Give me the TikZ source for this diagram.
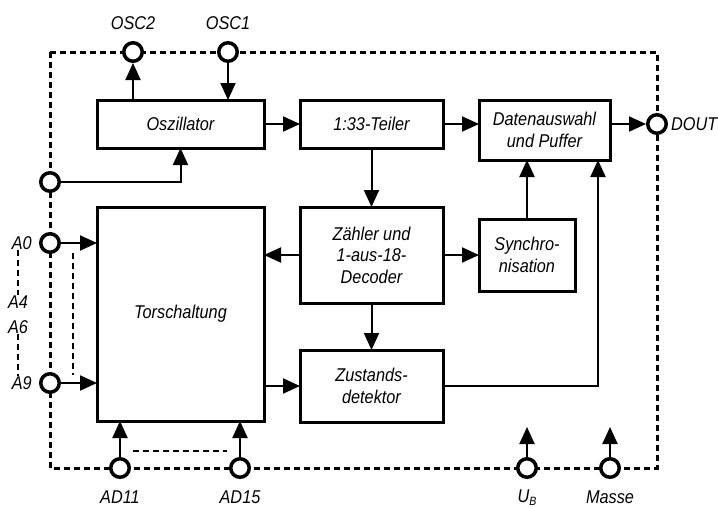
\documentclass[tikz,border=0pt]{standalone}
\usepackage{fontspec}
\setmainfont{Liberation Sans}[FakeStretch=0.88]
\usepackage{tikz}
\usetikzlibrary{positioning,arrows.meta}

\begin{document}
\begin{tikzpicture}[
  x=1pt, y=-1pt,
  font=\fontsize{18.5}{21.5}\selectfont\itshape,
  block/.style={draw, line width=3pt, align=center, inner sep=2pt, outer sep=0pt},
  anschluss/.style={draw, circle, line width=3.5pt, minimum size=18.5pt, inner sep=0pt, fill=white},
  beschr/.style={inner sep=0pt},
  pfeil/.style={-{Triangle[length=17pt,width=15pt]}, line width=2pt},
  rahmen/.style={dash pattern=on 6pt off 4pt, line width=3pt},
  duenn/.style={dash pattern=on 6pt off 4pt, line width=2pt}
]
  \useasboundingbox (0,0) rectangle (718,507);
  % Gehaeuse
  \draw[rahmen] (50,52) rectangle (657,468);

  % Bloecke
  \node[block, minimum width=167pt, minimum height=48pt] (osz) at (180.5,124) {Oszillator};
  \node[block, minimum width=143pt, minimum height=48pt, right=36pt of osz] (teiler) {1:33-Teiler};
  \node[block, minimum width=131pt, minimum height=60pt, right=36pt of teiler.north east, anchor=north west] (daten) {Datenauswahl\\und Puffer};
  \node[block, minimum width=143pt, minimum height=96pt, below=59pt of teiler] (zaehler) {Zähler und\\1-aus-18-\\Decoder};
  \node[block, minimum width=96pt, minimum height=72pt, right=36pt of zaehler] (sync) {Synchro-\\nisation};
  \node[block, minimum width=143pt, minimum height=72pt, below=47pt of zaehler] (zust) {Zustands-\\detektor};
  \node[block, minimum width=167pt, minimum height=214pt, left=36pt of zaehler.north west, anchor=north east] (tor) {Torschaltung};

  % Anschluesse
  \node[anschluss] (osc2) at (133,52) {};
  \node[anschluss] (osc1) at (228,52) {};
  \node[anschluss] (takt) at (50,182) {};
  \node[anschluss] (a0) at (50,243) {};
  \node[anschluss] (a9) at (50,383) {};
  \node[anschluss] (ad11) at (120,468) {};
  \node[anschluss] (ad15) at (240,468) {};
  \node[anschluss] (ub) at (527,468) {};
  \node[anschluss] (masse) at (610,468) {};
  \node[anschluss] (dout) at (657,124) {};

  \node[beschr, above=11pt of osc2] (losc2) {OSC2};
  \node[beschr, above=11pt of osc1] (losc1) {OSC1};
  \node[beschr, right=3pt of dout] (ldout) {DOUT};
  \node[beschr, left=7pt of a0] (la0) {A0};
  \node[beschr, left=7pt of a9] (la9) {A9};
  \node[beschr] (la4) at (18,302) {A4};
  \node[beschr] (la6) at (18,327) {A6};
  \node[beschr, below=12pt of ad11] (lad11) {AD11};
  \node[beschr, below=12pt of ad15] (lad15) {AD15};
  \node[beschr, below=11pt of ub] (lub) {U\raisebox{-2.5pt}[0pt][0pt]{\fontsize{12}{12}\selectfont B}};
  \node[beschr, below=12pt of masse] (lmasse) {Masse};

  % Verbindungen
  \draw[pfeil] (osz.north -| osc2) -- (osc2);
  \draw[pfeil] (osc1) -- (osc1 |- osz.north);
  \draw[pfeil] (takt) -| (osz.south);
  \draw[pfeil] (osz) -- (teiler);
  \draw[pfeil] (teiler) -- (teiler -| daten.west);
  \draw[pfeil] (daten.east |- dout) -- (dout);
  \draw[pfeil] (teiler) -- (zaehler);
  \draw[pfeil] (zaehler) -- (zaehler -| tor.east);
  \draw[pfeil] (zaehler) -- (sync);
  \draw[pfeil] (sync) -- (sync |- daten.south);
  \draw[pfeil] (zaehler) -- (zust);
  \draw[pfeil] (zust -| tor.east) -- (zust);
  \draw[pfeil] (zust.east) -| ([xshift=-12pt]daten.south east);
  \draw[pfeil] (a0) -- (a0 -| tor.west);
  \draw[pfeil] (a9) -- (a9 -| tor.west);
  \draw[pfeil] (ad11) -- (ad11 |- tor.south);
  \draw[pfeil] (ad15) -- (ad15 |- tor.south);
  \draw[pfeil] (ub.north) -- ++(0,-30);
  \draw[pfeil] (masse.north) -- ++(0,-30);

  % gestrichelte Sammelleitungen
  \draw[duenn] ([shift={(23,10)}]a0.center) -- ([shift={(23,-8)}]a9.center);
  \draw[duenn] ([shift={(13,-17)}]ad11.center) -- ([shift={(-13,-17)}]ad15.center);
  \draw[duenn] (la0.south -| la4) -- (la4.north);
  \draw[duenn] (la6.south) -- (la9.north -| la6);
\end{tikzpicture}
\end{document}
